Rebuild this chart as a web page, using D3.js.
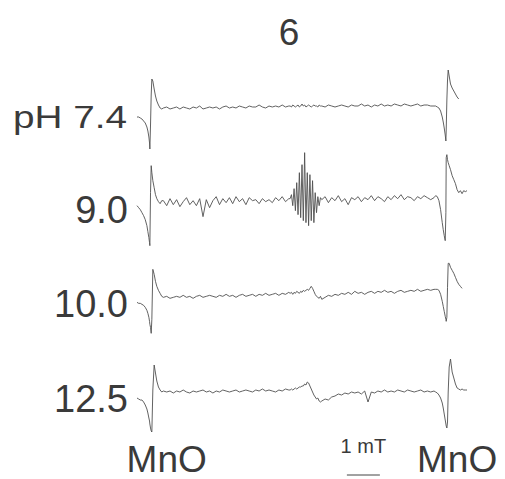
<!DOCTYPE html>
<html>
<head>
<meta charset="utf-8">
<script src="https://cdn.jsdelivr.net/npm/d3@7/dist/d3.min.js"></script>
<style>
  body { margin: 0; background: #fff; }
  svg text { font-family: "Liberation Sans", Arial, sans-serif; fill: #3a3a3a; }
</style>
</head>
<body>
<svg id="chart" width="505" height="479"></svg>
<script>
// EPR spectra, field offset in mT (non-uniform grid, finer around the MnO lines and the centre signal)
var field = [
  0, 0.05, 0.1, 0.15, 0.2, 0.25, 0.3, 0.33, 0.36, 0.38, 0.39, 0.41, 0.43, 0.45, 0.48, 0.52, 0.56, 0.6, 0.65, 0.7, 0.75,
  0.8, 0.9, 1.0, 1.1, 1.2, 1.3, 1.4, 1.5, 1.6, 1.7, 1.8, 1.9, 2.0, 2.1, 2.2, 2.3, 2.4, 2.5, 2.6, 2.7, 2.8, 2.9, 3.0, 3.1, 3.2, 3.3, 3.4, 3.5, 3.6, 3.7, 3.8, 3.9, 4.0, 4.1, 4.2, 4.3, 4.4, 4.5, 4.6,
  4.64, 4.68, 4.72, 4.76, 4.8, 4.84, 4.88, 4.92, 4.96, 5.0, 5.04, 5.08, 5.12, 5.16, 5.2, 5.24, 5.28, 5.32, 5.36, 5.4, 5.44, 5.48, 5.52, 5.56,
  5.6, 5.7, 5.8, 5.9, 6.0, 6.1, 6.2, 6.3, 6.4, 6.5, 6.6, 6.7, 6.8, 6.9, 7.0, 7.1, 7.2, 7.3, 7.4, 7.5, 7.6, 7.7, 7.8, 7.9, 8.0, 8.1, 8.2, 8.3, 8.4, 8.5, 8.6, 8.7, 8.8, 8.9, 9.0,
  9.05, 9.1, 9.15, 9.2, 9.25, 9.28, 9.31, 9.34, 9.36, 9.37, 9.39, 9.41, 9.43, 9.46, 9.5, 9.55, 9.6, 9.65, 9.7, 9.75, 9.8, 9.85, 9.9, 9.95, 10.0
];

var signal74 = [
  -9, -9, -10, -11, -13, -15, -19, -23, -29, -35, -41, -17, 13, 29, 27, 19, 12, 7, 3, 0, -1,
  0, 1, -1, 0, 1, -1, 1, 0, -1, 1, 0, 2, -1, 0, 1, 0, 1, -1, 1, 2, 0, 1, 0, 2, 1, 0, 2, 1, 1, 3, 1, 0, 2, 1, 2, 1, 3, 1, 2,
  2, 1, 3, 2, 1, 2, 3, 1, 2, 4, 2, 3, 1, 2, 3, 2, 1, 2, 3, 2, 2, 1, 3, 2,
  2, 1, 3, 2, 1, 2, 3, 2, 1, 3, 2, 2, 4, 2, 3, 1, 3, 2, 4, 2, 3, 2, 4, 3, 2, 4, 3, 2, 3, 4, 2, 3, 3, 2, 2,
  2, 1, 0, -3, -9, -14, -20, -27, -33, -22, 8, 28, 38, 32, 24, 20, 17, 14, 11, 9, null, null, null, null, null
];

var signal90 = [
  -3, -5, -7, -10, -13, -17, -23, -29, -35, -40, -43, 10, 37, 30, 22, 15, 8, 4, 1, -1, 2,
  2, -3, 4, -2, 3, -4, 1, 5, -2, 2, -3, 4, -14, 3, -5, 2, 6, -2, 4, 0, 5, -1, 6, 1, 4, -2, 5, 2, 3, -1, 4, 1, 3, 0, 5, 2, 6, 1, 4,
  4, 8, -3, 14, -8, 20, -12, 30, -15, 38, -18, 50, -20, 30, -23, 28, -18, 22, -20, 10, -10, 6, -3, 5,
  3, 6, 0, 5, 2, 7, 1, 4, -2, 5, 3, 6, 1, 5, 3, 7, 2, 6, 4, 1, 6, 3, 7, 4, 8, 3, 6, 5, 2, 6, 4, 7, 5, 3, 5,
  7, 6, 2, -7, -20, -27, -33, -38, -10, 45, 48, 43, 40, 37, 33, 27, 23, 19, 13, 10, 12, 9, 12, 11, 12
];

var signal100 = [
  -5, -6, -6, -7, -8, -10, -13, -16, -20, -24, -27, -30, -36, -22, 28, 23, 16, 11, 7, 4, 1,
  0, 1, -1, 0, 1, 0, 2, 0, 1, -1, 1, 2, 0, 1, 2, 1, 0, 2, 1, 3, 1, 2, 0, 2, 3, 1, 2, 3, 1, 3, 2, 4, 2, 3, 4, 2, 4, 3, 5,
  4, 5, 3, 5, 4, 6, 5, 4, 6, 5, 7, 6, 7, 8, 7, 9, 11, 9, 6, 3, 1, 0, -1, 1,
  -2, 0, 2, 1, 3, 2, 4, 3, 5, 3, 6, 4, 5, 3, 5, 6, 4, 6, 5, 7, 5, 6, 4, 6, 7, 5, 6, 7, 6, 8, 6, 7, 8, 7, 8,
  8, 8, 7, 3, -4, -9, -14, -19, -22, -24, -20, 10, 34, 34, 30, 27, 24, 20, 16, 13, 11, 9, null, null, null
];

var signal125 = [
  -6, -7, -8, -8, -10, -13, -17, -21, -26, -29, -32, -36, -39, -40, 2, 27, 19, 11, 5, 2, 0,
  1, 0, 1, -1, 1, 0, 2, 0, -1, 1, 0, 1, 2, 0, 1, -1, 1, 0, 2, 1, 0, 1, 2, 0, 1, 2, 1, 0, 2, 1, 3, 1, 2, 1, 0, 2, 1, 3, 2,
  2, 3, 2, 3, 4, 3, 4, 5, 5, 6, 6, 8, 7, 10, 9, 6, 3, 0, -3, -5, -7, -6, -9, -10,
  -9, -7, -8, -5, -4, -2, -3, -1, -2, 0, -1, 0, -2, 1, -10, 0, -1, 1, 0, 2, 0, 1, 0, 2, 1, 0, 2, 1, 0, 1, 2, 0, 1, 0, 1,
  0, -1, -3, -6, -11, -16, -22, -28, -32, -34, -36, -30, 0, 25, 33, 20, 14, 8, 4, 3, 2, 3, 2, 2, 2
];

var rowLabels = ["pH 7.4", "9.0", "10.0", "12.5"];
var series = [signal74, signal90, signal100, signal125];
var title = "6";
var markerLabel = "MnO";
var scaleBarText = "1 mT";
var scaleBarStart = 6.36; // mT

var svg = d3.select("#chart");

var x = d3.scaleLinear().domain([0, 10]).range([137, 467]);
var y = d3.scaleLinear().domain([-50, 50]).range([50, -50]);
var row = d3.scalePoint().domain(rowLabels).range([108, 392]);

var line = d3.line()
  .defined(function (d) { return d[1] !== null; })
  .x(function (d) { return x(d[0]); })
  .y(function (d) { return y(d[1]); });

// one trace per pH
rowLabels.forEach(function (label, i) {
  var g = svg.append("g").attr("transform", "translate(0," + row(label) + ")");
  var pts = field.map(function (f, j) { return [f, series[i][j]]; });

  g.append("path")
    .attr("d", line(pts))
    .attr("fill", "none")
    .attr("stroke", "#505050")
    .attr("stroke-width", 0.9)
    .attr("stroke-linejoin", "round");

  var t = g.append("text")
    .attr("x", 128)
    .attr("y", 20)
    .attr("text-anchor", "end")
    .attr("font-size", i === 0 ? 32 : 38)
    .text(label);
  if (i === 0) {
    t.attr("x", 13).attr("text-anchor", "start")
      .attr("textLength", 114).attr("lengthAdjust", "spacingAndGlyphs");
  }
});

// title
svg.append("text")
  .attr("x", 289).attr("y", 45)
  .attr("text-anchor", "middle")
  .attr("font-size", 37)
  .text(title);

// MnO marker labels under the outer lines
svg.append("text")
  .attr("x", x(0.9)).attr("y", 472)
  .attr("text-anchor", "middle")
  .attr("font-size", 37)
  .text(markerLabel);
svg.append("text")
  .attr("x", x(9.7)).attr("y", 472)
  .attr("text-anchor", "middle")
  .attr("font-size", 37)
  .text(markerLabel);

// 1 mT scale bar
svg.append("text")
  .attr("x", x(scaleBarStart + 0.5)).attr("y", 453)
  .attr("text-anchor", "middle")
  .attr("font-size", 20)
  .text(scaleBarText);
svg.append("line")
  .attr("x1", x(scaleBarStart)).attr("x2", x(scaleBarStart + 1))
  .attr("y1", 475).attr("y2", 475)
  .attr("stroke", "#444").attr("stroke-width", 1);
</script>
</body>
</html>
